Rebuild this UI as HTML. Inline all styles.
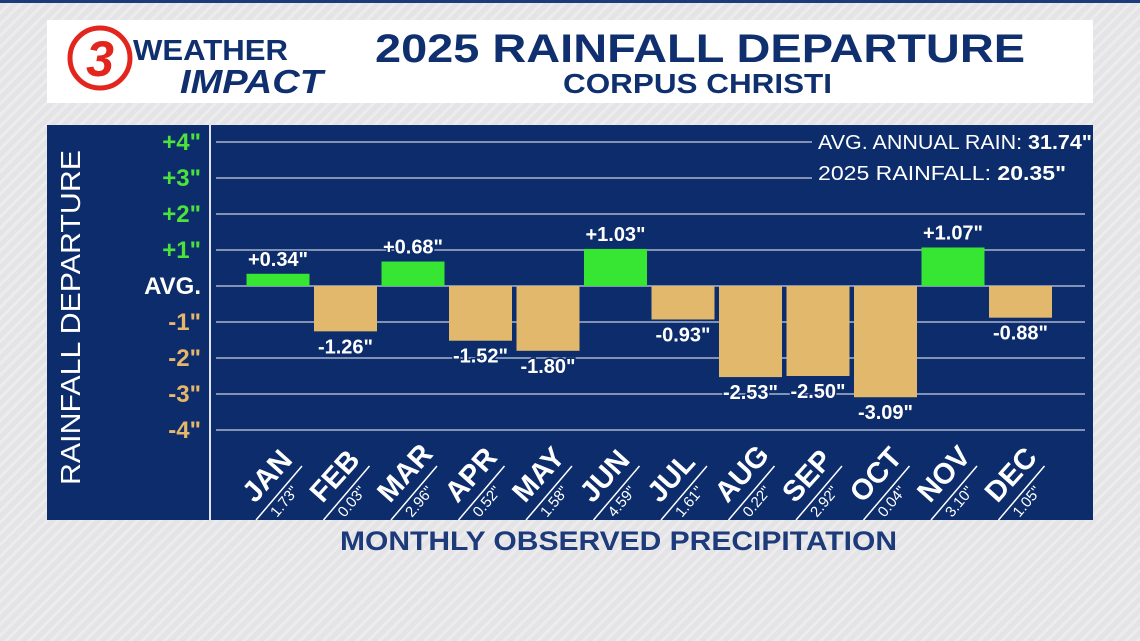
<!DOCTYPE html>
<html><head><meta charset="utf-8"><style>
html,body{margin:0;padding:0;width:1140px;height:641px;overflow:hidden;font-family:"Liberation Sans",sans-serif}
</style></head><body>
<svg width="1140" height="641" viewBox="0 0 1140 641">
<defs>
<pattern id="stripes" width="8" height="8" patternUnits="userSpaceOnUse" patternTransform="rotate(45)">
<rect width="8" height="8" fill="#e4e4e6"/><rect width="3" height="8" fill="#ececee"/>
</pattern>
</defs>
<rect width="1140" height="641" fill="url(#stripes)"/>
<rect x="0" y="0" width="1140" height="3" fill="#1d3a7a"/>
<rect x="47" y="20" width="1046" height="83" fill="#ffffff"/>
<g>
<circle cx="100" cy="58" r="30" fill="#fff" stroke="#e3261d" stroke-width="5"/>
<text x="100" y="76" font-size="50" font-weight="bold" fill="#e3261d" text-anchor="middle" font-style="italic">3</text>
<text x="133" y="60" font-size="29" fill="#0f2f6e" font-weight="bold" textLength="155" lengthAdjust="spacingAndGlyphs">WEATHER</text>
<text x="180" y="93" font-size="33" fill="#0f2f6e" font-weight="bold" font-style="italic" textLength="143" lengthAdjust="spacingAndGlyphs">IMPACT</text>
</g>
<text x="375" y="62" font-size="40" font-weight="bold" fill="#0f2f6e" textLength="650" lengthAdjust="spacingAndGlyphs">2025 RAINFALL DEPARTURE</text>
<text x="563" y="93" font-size="28" font-weight="bold" fill="#0f2f6e" textLength="269" lengthAdjust="spacingAndGlyphs">CORPUS CHRISTI</text>
<rect x="47" y="125" width="1046" height="395" fill="#0c2c6c"/>
<rect x="209" y="125" width="2" height="395" fill="#dfe4ee"/>
<text transform="translate(80,485) rotate(-90)" font-size="28" fill="#fff" textLength="335" lengthAdjust="spacingAndGlyphs">RAINFALL DEPARTURE</text>
<g id="grid"></g><g id="yticks"></g><g id="bars"></g><g id="xlabels"></g>
<rect x="812" y="128" width="280" height="60" fill="#0c2c6c"/>
<text x="818" y="149" font-size="20" fill="#fff" textLength="274" lengthAdjust="spacingAndGlyphs">AVG. ANNUAL RAIN: <tspan font-weight="bold">31.74"</tspan></text>
<text x="818" y="180" font-size="20" fill="#fff" textLength="248" lengthAdjust="spacingAndGlyphs">2025 RAINFALL:  <tspan font-weight="bold">20.35"</tspan></text>
<text x="340" y="550" font-size="27" font-weight="bold" fill="#1d3a7a" textLength="557" lengthAdjust="spacingAndGlyphs">MONTHLY OBSERVED PRECIPITATION</text>
</svg>
<script>
const months=["JAN","FEB","MAR","APR","MAY","JUN","JUL","AUG","SEP","OCT","NOV","DEC"];
const departures=[0.34,-1.26,0.68,-1.52,-1.80,1.03,-0.93,-2.53,-2.50,-3.09,1.07,-0.88];
const observed=["1.73","0.03","2.96","0.52","1.58","4.59","1.61","0.22","2.92","0.04","3.10","1.05"];
const tickValues=[4,3,2,1,0,-1,-2,-3,-4];
const tickLabels=['+4"','+3"','+2"','+1"','AVG.','-1"','-2"','-3"','-4"'];
const NS="http://www.w3.org/2000/svg";
const y=v=>286-v*36;
const x=i=>278+i*67.5;
const BW=63;
function mk(t,a,p){const e=document.createElementNS(NS,t);for(const k in a)e.setAttribute(k,a[k]);p.appendChild(e);return e;}
const grid=document.getElementById('grid'),yt=document.getElementById('yticks'),bars=document.getElementById('bars'),xl=document.getElementById('xlabels');
tickValues.forEach((v,i)=>{
 const l=mk('line',{x1:216,x2:1085,y1:y(v),y2:y(v),stroke:'#c9d0e0','stroke-width':1.3},grid);
 
 
 const t=mk('text',{x:201,y:y(v)+8,'font-size':24,'font-weight':'bold','text-anchor':'end',fill:v>0?'#4be33b':(v<0?'#e6b76a':'#ffffff')},yt);
 t.textContent=tickLabels[i];
 
 
});
departures.forEach((d,i)=>{
 const cx=x(i);
 const top=d>=0?y(d):y(0), h=Math.abs(y(d)-y(0));
 const r=mk('rect',{x:cx-BW/2,y:top,width:BW,height:h,fill:d>=0?'#37e533':'#e2b96c'},bars);
 
 
 const lbl=(d>=0?'+':'')+d.toFixed(2)+'"';
 const ty=d>=0?y(d)-8:y(d)+22;
 const t=mk('text',{x:cx,y:ty,'font-size':20,'font-weight':'bold','text-anchor':'middle',fill:'#fff',stroke:'#0c2c6c','stroke-width':3,'paint-order':'stroke'},bars);
 t.textContent=lbl;
 
 
 const m=mk('text',{transform:`translate(${cx-23},${504}) rotate(-48)`,'font-size':29,'font-weight':'bold',fill:'#fff'},xl);
 m.textContent=months[i];
 
 
 const ln=mk('line',{x1:cx-22,y1:520,x2:cx+24,y2:466,stroke:'#fff','stroke-width':1.5},xl);
 
 
 const o=mk('text',{transform:`translate(${cx-1},${518}) rotate(-50)`,'font-size':15,fill:'#fff'},xl);
 o.textContent=observed[i]+'"';
 
 
});
</script>
</body></html>
